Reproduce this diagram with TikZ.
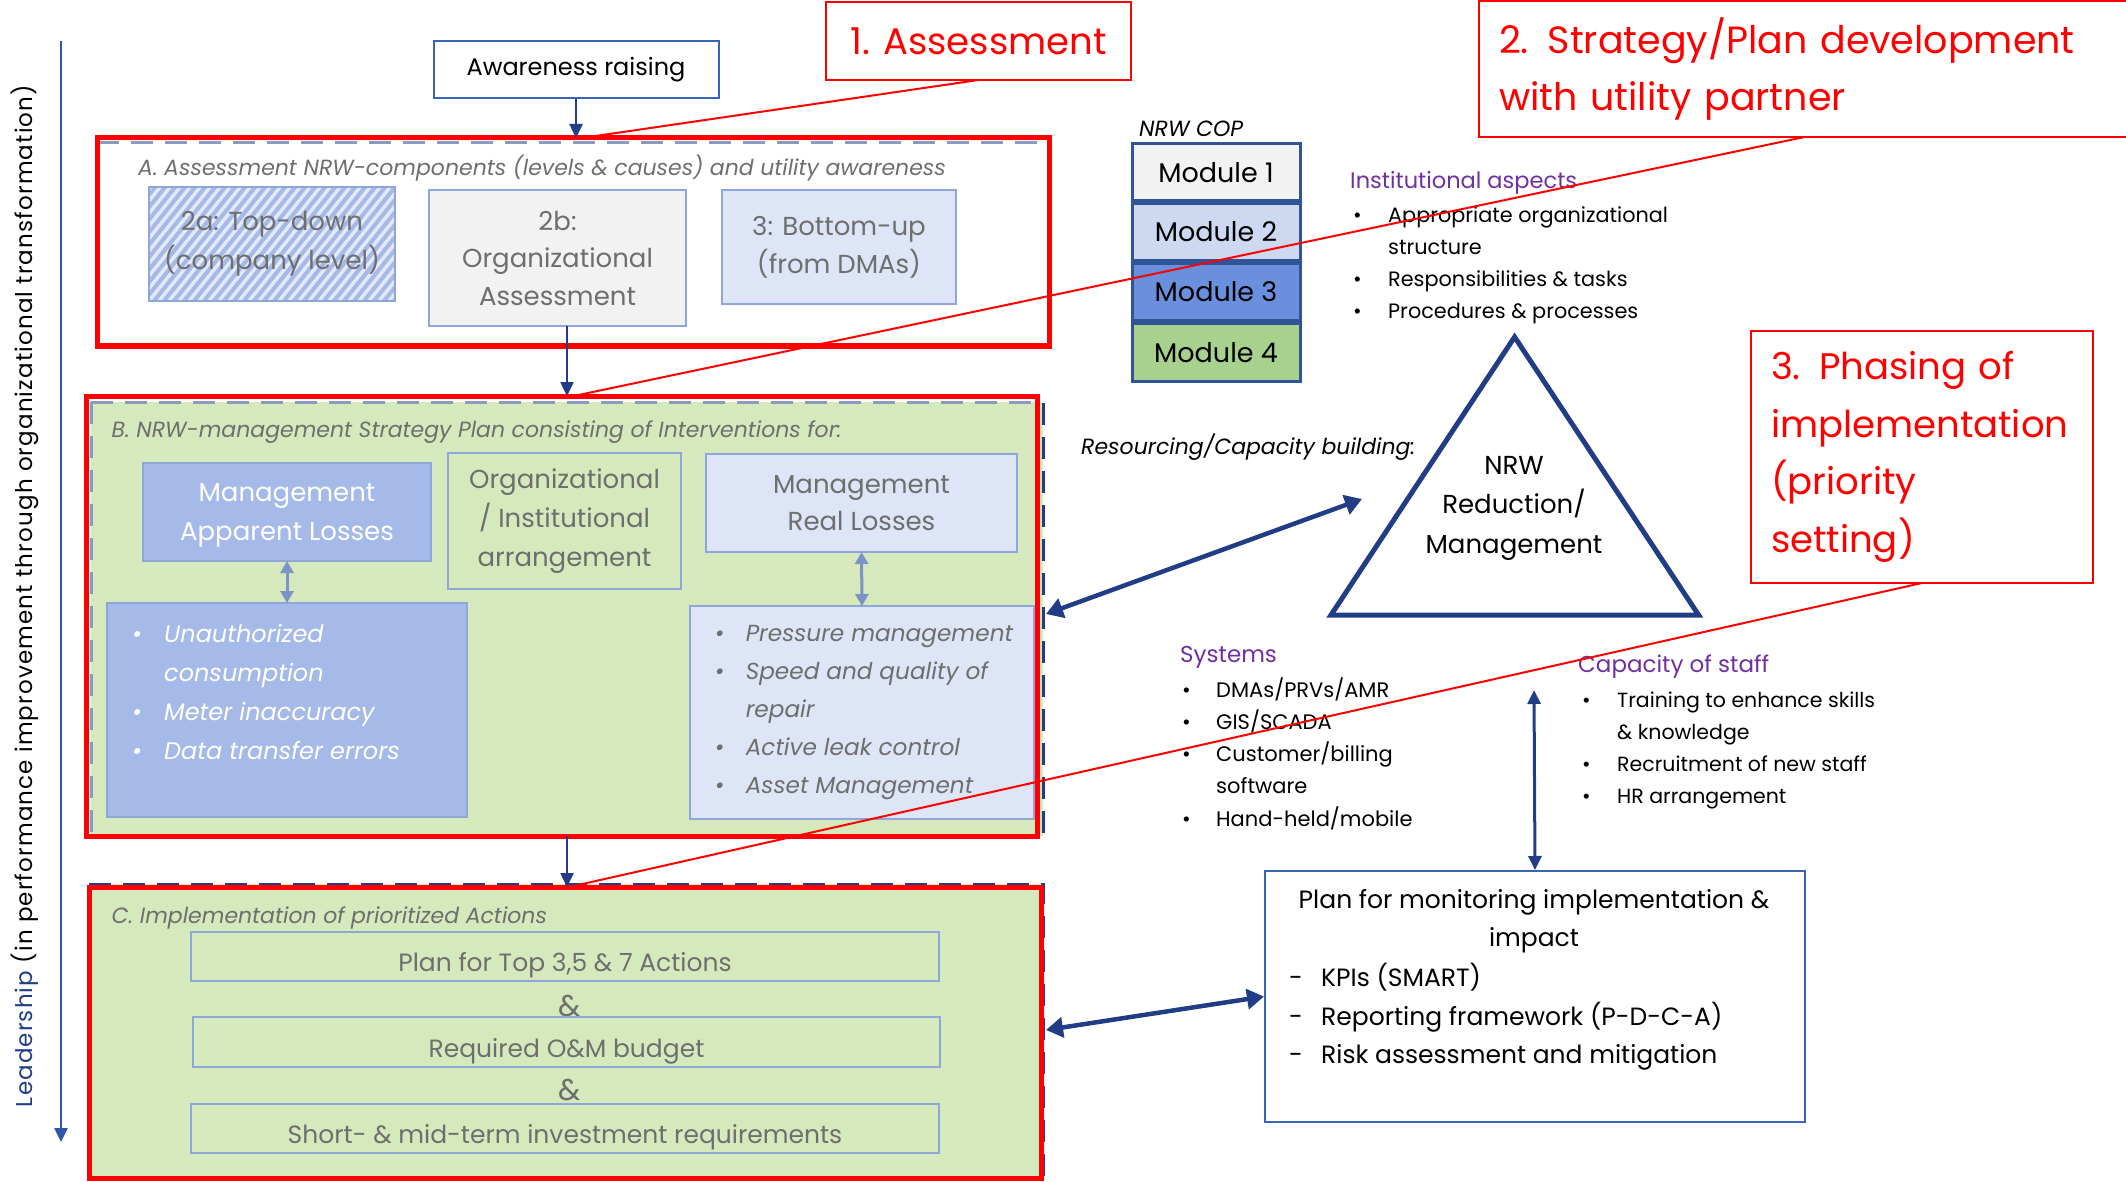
\documentclass[tikz,border=0pt]{standalone}
\usepackage{fontspec}
\setmainfont{Poppins}
\usetikzlibrary{arrows.meta}
\definecolor{cNavy}{HTML}{203D85}
\definecolor{cLBlue}{HTML}{2F58AC}
\definecolor{cMon}{HTML}{3A62B6}
\definecolor{boxb}{HTML}{8EA6DA}
\definecolor{txtg}{HTML}{6E6E6E}
\definecolor{grn}{HTML}{D6E9BD}
\definecolor{mblue}{HTML}{A5BAE8}
\definecolor{pblue}{HTML}{DDE5F6}
\definecolor{stripe}{HTML}{E2E9F8}
\definecolor{purp}{HTML}{7030A0}
\definecolor{modb}{HTML}{2F5597}
\definecolor{mod1}{HTML}{F2F2F2}
\definecolor{mod2}{HTML}{CDD8F1}
\definecolor{mod3}{HTML}{6A8FDC}
\definecolor{mod4}{HTML}{A9D18E}
\definecolor{dashg}{HTML}{8A9BBF}
\definecolor{cArrG}{HTML}{7B93C9}
\newcommand\myfs[2]{\fontsize{#1}{#2}\selectfont}
\newcommand\bul[1]{\makebox[#1][l]{\textbullet}}
\begin{document}
\begin{tikzpicture}[x=1pt,y=-1pt,
 bx/.style={draw=boxb, line width=2pt, inner sep=0pt, outer sep=0pt, align=center, text=txtg},
 cbx/.style={bx, text height=30pt, text depth=0pt, font=\myfs{25}{30}},
 redb/.style={draw=red, line width=5pt, inner sep=0pt, outer sep=0pt},
 calbox/.style={draw=red, line width=2pt, text=red, inner sep=0pt, outer sep=0pt, align=left},
 redl/.style={draw=red, line width=2pt},
 arr/.style={draw=cNavy, line width=2.5pt, -{Triangle[length=14pt,width=13pt]}},
 darr/.style={draw=cNavy, line width=4.5pt, {Triangle[length=17pt,width=20pt]}-{Triangle[length=17pt,width=20pt]}},
 varr/.style={draw=cNavy, line width=3pt, {Triangle[length=14pt,width=13pt]}-{Triangle[length=14pt,width=13pt]}},
 garr/.style={draw=cArrG, line width=3pt, {Triangle[length=12pt,width=13pt]}-{Triangle[length=12pt,width=13pt]}},
 dsh/.style={line width=3pt, dash pattern=on 22pt off 12pt},
 modbox/.style={draw=modb, line width=3pt, minimum width=168pt, minimum height=57pt, inner sep=0pt, font=\myfs{27}{32}},
 lst/.style={align=left, inner sep=0pt, anchor=west},
 plain/.style={inner sep=0pt, anchor=west}]
\useasboundingbox (0,0) rectangle (2126,1182);

% leadership axis
\node[rotate=90, inner sep=0pt, font=\myfs{23}{28}\addfontfeature{LetterSpace=5}] (lead) at (25,596)
  {\textcolor{cNavy}{Leadership} (in performance improvement through organizational transformation)};
\coordinate (lTop) at (61,41);
\coordinate (lBot) at (61,1142);
\draw[arr, draw=cLBlue] (lTop) -- (lBot);

% awareness
\node[draw=cMon, line width=2pt, minimum width=285pt, minimum height=57pt, inner sep=0pt, font=\myfs{24}{28}] (aw) at (576,69.5) {Awareness raising};

% ---------- A ----------
\draw[dsh, draw=dashg] (97,142.5) -- (1049,142.5);
\node[redb, minimum width=952pt, minimum height=208pt] (Ared) at (573,242) {};
\node[anchor=base west, inner sep=0pt, text=txtg, font=\myfs{22}{26}\itshape] (Atitle) at (138,176)
  {A. Assessment NRW-components (levels \& causes) and utility awareness};
\node[bx, fill=mblue, minimum width=246pt, minimum height=114pt, font=\myfs{26}{39},
  path picture={\foreach \k in {-14,...,26}{\draw[stripe, line width=3.4pt] ([xshift=\k*10pt]path picture bounding box.south west) -- ++(120pt,150pt);}}]
  (ta) at (272,244) {2a: Top-down\\(company level)};
\node[bx, fill=mod1, minimum width=257pt, minimum height=136pt, font=\myfs{26}{37.5}] (ob) at (557.5,258) {2b:\\Organizational\\Assessment};
\node[bx, fill=pblue, minimum width=234pt, minimum height=114pt, font=\myfs{26}{38}] (bu) at (839,247) {3: Bottom-up\\(from DMAs)};

% ---------- B ----------
\fill[grn] (91,402) rectangle (1043,836);
\draw[dsh, draw=dashg] (91,402) -- (1037,402);
\draw[dsh, draw=dashg] (91,402) -- (91,836);
\draw[dsh, draw=cNavy] (1043,403) -- (1043,834);
\node[redb, minimum width=951pt, minimum height=440pt] (Bred) at (561.5,616) {};
\node[anchor=base west, inner sep=0pt, text=txtg, font=\myfs{22}{26}\itshape] (Btitle) at (111.5,437)
  {B. NRW-management Strategy Plan consisting of Interventions for:};
\node[bx, fill=mblue, text=white, minimum width=288pt, minimum height=98pt, font=\myfs{26}{38.5}] (mal) at (287,512) {\\[-14pt]Management\\Apparent Losses};
\node[bx, fill=grn, minimum width=233pt, minimum height=136pt, font=\myfs{26}{39}] (org) at (564.5,521) {Organizational\\/ Institutional\\arrangement};
\node[bx, fill=pblue, minimum width=311pt, minimum height=98pt, font=\myfs{26}{37.5}] (mrl) at (861.5,503) {Management\\Real Losses};
\node[bx, fill=mblue, minimum width=360pt, minimum height=214pt] (al) at (287,710) {};
\node[lst, text=white, font=\myfs{24}{39}\itshape] (alt) at (132,691.7)
  {\bul{32pt}Unauthorized\\\hspace*{32pt}consumption\\\bul{32pt}Meter inaccuracy\\\bul{32pt}Data transfer errors};
\node[bx, fill=pblue, minimum width=344pt, minimum height=213pt] (rl) at (862,712.5) {};
\node[lst, text=txtg, font=\myfs{23.2}{38}\itshape] (rlt) at (714.6,712.5)
  {\bul{31pt}Pressure management\\\bul{31pt}Speed and quality of\\\hspace*{31pt}repair\\\bul{31pt}Active leak control\\\bul{31pt}Asset Management};
\draw[garr] (mal.south) -- (al.north);
\draw[garr] (mrl.south) -- (rl.north);

% ---------- C ----------
\fill[grn] (89,884) rectangle (1043,1180);
\draw[dsh, draw=cNavy] (89,884) -- (1043,884) -- (1043,1180);
\node[redb, minimum width=952pt, minimum height=291pt] (Cred) at (565,1032.5) {};
\node[anchor=base west, inner sep=0pt, text=txtg, font=\myfs{22}{26}\itshape] (Ctitle) at (111.5,923)
  {C. Implementation of prioritized Actions};
\node[cbx, minimum width=748pt, minimum height=49pt] (p1) at (565,956.5) {Plan for Top 3,5 \& 7 Actions};
\node[text=txtg, inner sep=0pt, font=\myfs{30}{34}] (amp1) at (570,1006) {\&};
\node[cbx, minimum width=747pt, minimum height=50pt] (p2) at (566.5,1042) {Required O\&M budget};
\node[text=txtg, inner sep=0pt, font=\myfs{30}{34}] (amp2) at (570,1090) {\&};
\node[cbx, minimum width=748pt, minimum height=49pt] (p3) at (565,1128.5) {Short- \& mid-term investment requirements};

% main vertical flow
\coordinate (ax) at (567,0);
\draw[arr] (aw.south) -- (aw.south |- Ared.north);
\draw[arr] (ob.south -| ax) -- (Bred.north -| ax);
\draw[arr] (Bred.south -| ax) -- (Cred.north -| ax);

% ---------- NRW COP ----------
\node[plain, font=\myfs{22}{26}\itshape] (cop) at (1139,128.5) {NRW COP};
\node[modbox, fill=mod1] (m1) at (1216,172.2) {Module 1};
\node[modbox, fill=mod2] (m2) at (1216,231.9) {Module 2};
\node[modbox, fill=mod3] (m3) at (1216,292) {Module 3};
\node[modbox, fill=mod4] (m4) at (1216,352.5) {Module 4};

% institutional
\node[plain, text=purp, font=\myfs{22.5}{26}] (ia) at (1350,183) {Institutional aspects};
\node[lst, font=\myfs{20.8}{32}] (ial) at (1353,265)
  {\bul{35pt}Appropriate organizational\\\hspace*{35pt}structure\\\bul{35pt}Responsibilities \& tasks\\\bul{35pt}Procedures \& processes};

% triangle
\coordinate (tA) at (1514.6,337);
\coordinate (tL) at (1331,615);
\coordinate (tR) at (1698.6,615);
\draw[draw=cNavy, line width=5pt] (tA) -- (tL) -- (tR) -- cycle;
\node[align=center, inner sep=0pt, font=\myfs{26}{39.5}] (tri) at (1514,508) {NRW\\Reduction/\\Management};
\node[plain, font=\myfs{22}{26}\itshape] (res) at (1081,447) {Resourcing/Capacity building:};

% systems
\node[plain, text=purp, font=\myfs{23}{26}] (sys) at (1180,657.5) {Systems};
\node[lst, font=\myfs{21}{32.3}] (sysl) at (1182,753.5)
  {\bul{34pt}DMAs/PRVs/AMR\\\bul{34pt}GIS/SCADA\\\bul{34pt}Customer/billing\\\hspace*{34pt}software\\\bul{34pt}Hand-held/mobile};

% capacity
\node[plain, text=purp, font=\myfs{23}{26}] (cap) at (1578,667) {Capacity of staff};
\node[lst, font=\myfs{20.5}{32}] (capl) at (1582,750)
  {\bul{35pt}Training to enhance skills\\\hspace*{35pt}\& knowledge\\\bul{35pt}Recruitment of new staff\\\bul{35pt}HR arrangement};

% monitoring
\node[draw=cMon, line width=2pt, minimum width=540pt, minimum height=251pt, inner sep=0pt] (mon) at (1535,996.5) {};
\node[align=center, inner sep=0pt, font=\myfs{25}{37.5}] (mont) at (1534,921) {Plan for monitoring implementation \&\\impact};
\node[lst, font=\myfs{25}{38.6}] (monl) at (1289,1017)
  {\makebox[32pt][l]{-}KPIs (SMART)\\\makebox[32pt][l]{-}Reporting framework (P-D-C-A)\\\makebox[32pt][l]{-}Risk assessment and mitigation};

% double arrows
\coordinate (resEnd) at (1362,499);
\coordinate (bEnd) at (1046,614);
\draw[darr] (bEnd) -- (resEnd);
\coordinate (cEnd) at (1046,1030);
\draw[darr] (cEnd) -- (mon.west);
\coordinate (capEnd) at (1534,690);
\draw[varr] (mon.north) -- (capEnd);

% ---------- callouts ----------
\node[calbox, minimum width=305pt, minimum height=78pt, align=center, font=\myfs{37}{46}] (c1) at (978.5,41) {1. Assessment};
\node[calbox, anchor=north west, text width=611pt, inner xsep=20pt, minimum height=136pt, font=\myfs{38}{57}] (c2) at (1479,1) {2. Strategy/Plan development\\with utility partner};
\node[calbox, anchor=north west, text width=302pt, inner xsep=20pt, minimum height=252pt, font=\myfs{37}{57.5}] (c3) at (1751,331) {3. Phasing of\\implementation\\(priority\\setting)};
\coordinate (e1) at (582,138);
\coordinate (e2) at (569,397);
\coordinate (e3) at (569,887);
\draw[redl] (c1.south) -- (e1);
\draw[redl] (c2.south) -- (e2);
\draw[redl] (c3.south) -- (e3);
\end{tikzpicture}
\end{document}
